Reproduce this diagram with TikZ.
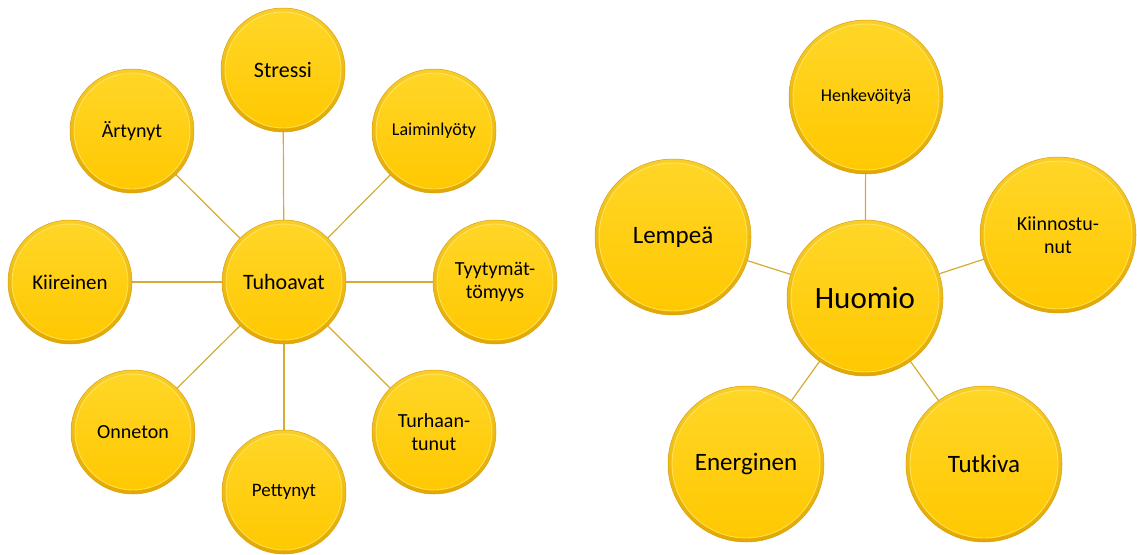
\documentclass[tikz,border=0pt]{standalone}
\usepackage{fontspec}
\setmainfont{Carlito}
\usetikzlibrary{backgrounds}
\definecolor{outT}{RGB}{250,206,40}
\definecolor{outB}{RGB}{226,168,0}
\definecolor{edgeC}{RGB}{214,160,20}
\definecolor{inT}{RGB}{255,214,40}
\definecolor{inB}{RGB}{255,200,0}
\definecolor{hiC}{RGB}{255,236,120}
\definecolor{lineC}{RGB}{214,172,52}
\tikzset{
  bub/.style={circle, inner sep=0pt, minimum size=#1, top color=outT, bottom color=outB,
    draw=edgeC, line width=0.5pt, align=center, text=black,
    path picture={
      \shade[top color=inT, bottom color=inB] (path picture bounding box.center) circle (#1/2-4pt);
      \draw[hiC, line width=0.9pt, opacity=0.7] (path picture bounding box.center) circle (#1/2-4pt);
    }},
  link/.style={draw=lineC, line width=1.2pt}
}
\begin{document}
\begin{tikzpicture}[x=1pt,y=-1pt]
\useasboundingbox (0,0) rectangle (1137,554);
% left diagram
\node[bub=124pt, font=\fontsize{22}{25}\selectfont] (tuh) at (284,282) {Tuhoavat};
\node[bub=124pt, font=\fontsize{22}{25}\selectfont] (str) at (283,70) {Stressi};
\node[bub=124pt, font=\fontsize{18}{21}\selectfont] (lai) at (434,131) {Laiminlyöty};
\node[bub=124pt, font=\fontsize{20}{23}\selectfont] (tyy) at (495,282) {Tyytymät-\\tömyys};
\node[bub=124pt, font=\fontsize{20}{23}\selectfont] (tur) at (434,432) {Turhaan-\\tunut};
\node[bub=124pt, font=\fontsize{19}{22}\selectfont] (pet) at (284,492) {Pettynyt};
\node[bub=124pt, font=\fontsize{20}{23}\selectfont] (onn) at (133,432) {Onneton};
\node[bub=124pt, font=\fontsize{21}{24}\selectfont] (kii) at (70,282) {Kiireinen};
\node[bub=124pt, font=\fontsize{20}{23}\selectfont] (art) at (132,131) {Ärtynyt};
% right diagram
\node[bub=156pt, font=\fontsize{31}{35}\selectfont] (huo) at (865,298) {Huomio};
\node[bub=154pt, font=\fontsize{18}{21}\selectfont] (hen) at (866,97) {Henkevöityä};
\node[bub=156pt, font=\fontsize{20}{23}\selectfont] (kin) at (1058,235) {Kiinnostu-\\nut};
\node[bub=156pt, font=\fontsize{25}{28}\selectfont] (tut) at (984,464) {Tutkiva};
\node[bub=156pt, font=\fontsize{25}{28}\selectfont] (ene) at (746,464) {Energinen};
\node[bub=156pt, font=\fontsize{25}{28}\selectfont] (lem) at (673,237) {Lempeä};
\begin{pgfonlayer}{background}
\fill[white] (0,0) rectangle (1137,554);
\foreach \n in {str,lai,tyy,tur,pet,onn,kii,art}
  \draw[link] (tuh.center) -- (\n.center);
\foreach \n in {hen,kin,tut,ene,lem}
  \draw[link] (huo.center) -- (\n.center);
\end{pgfonlayer}
\end{tikzpicture}
\end{document}
